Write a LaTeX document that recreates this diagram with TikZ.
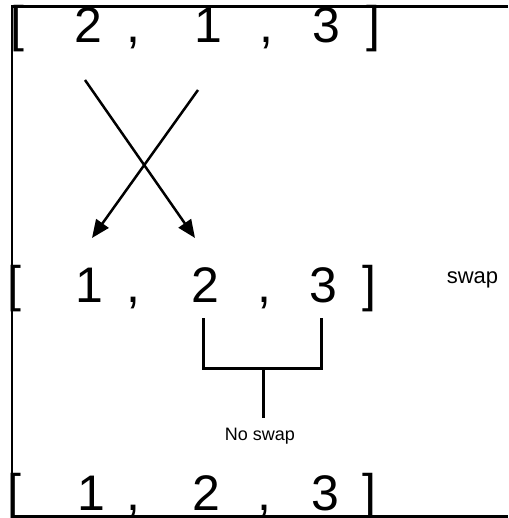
\documentclass[tikz,border=0pt]{standalone}
\usepackage{fontspec}
\setmainfont{Liberation Sans}
\usetikzlibrary{arrows.meta}
\tikzset{
  big/.style={inner sep=0pt, anchor=base, font=\fontsize{50}{60}\selectfont},
  arr/.style={line width=2.5pt, -{Triangle[length=18pt,width=15pt]}},
  ln/.style={line width=2.6pt},
  frame/.style={line width=2.7pt},
  lbl/.style={inner sep=0pt, anchor=base}
}
\begin{document}
\begin{tikzpicture}[x=1pt,y=-1pt]
\useasboundingbox (0,0) rectangle (508,518);
% frame
\coordinate (ftr) at (508,6.5);
\coordinate (ftl) at (12,6.5);
\coordinate (fbl) at (12,518);
\coordinate (fbl2) at (12,516.2);
\coordinate (fbr) at (508,516.2);
\draw[frame] (ftr) -- (ftl) -- (fbl);
\draw[frame] (fbl2) -- (fbr);
% row 1
\node[big] (r1lb) at (17,42) {[};
\node[big] (r1a) at (88,43) {2};
\node[big] (r1c1) at (133,43) {,};
\node[big] (r1b) at (208.4,43) {1};
\node[big] (r1c2) at (266,43) {,};
\node[big] (r1d) at (326,43) {3};
\node[big] (r1rb) at (373,42) {]};
% row 2
\node[big] (r2lb) at (14,301) {[};
\node[big] (r2a) at (89.4,302) {1};
\node[big] (r2c1) at (133,302) {,};
\node[big] (r2b) at (205,302) {2};
\node[big] (r2c2) at (264,302) {,};
\node[big] (r2d) at (323,302) {3};
\node[big] (r2rb) at (369,301) {]};
% row 3
\node[big] (r3lb) at (14,509) {[};
\node[big] (r3a) at (91,510) {1};
\node[big] (r3c1) at (133,510) {,};
\node[big] (r3b) at (206,510) {2};
\node[big] (r3c2) at (264,510) {,};
\node[big] (r3d) at (325,510) {3};
\node[big] (r3rb) at (369,509) {]};
% swap arrows
\coordinate (a1s) at (85,80);
\coordinate (a1e) at (195,238);
\coordinate (a2s) at (198,90);
\coordinate (a2e) at (92,238);
\draw[arr] (a1s) -- (a1e);
\draw[arr] (a2s) -- (a2e);
% no swap bracket
\coordinate (n1) at (203.3,318);
\coordinate (n2) at (203.3,368.5);
\coordinate (n3) at (321.7,368.5);
\coordinate (n4) at (321.7,318);
\coordinate (m1) at (263.3,368.5);
\coordinate (m2) at (263.3,418);
\draw[ln] (n1) -- (n2) -- (n3) -- (n4);
\draw[ln] (m1) -- (m2);
% labels
\node[lbl, font=\fontsize{18}{22}\selectfont] (ns) at (260,440) {No swap};
\node[lbl, font=\fontsize{22}{26}\selectfont] (sw) at (472.5,283) {swap};
\end{tikzpicture}
\end{document}
